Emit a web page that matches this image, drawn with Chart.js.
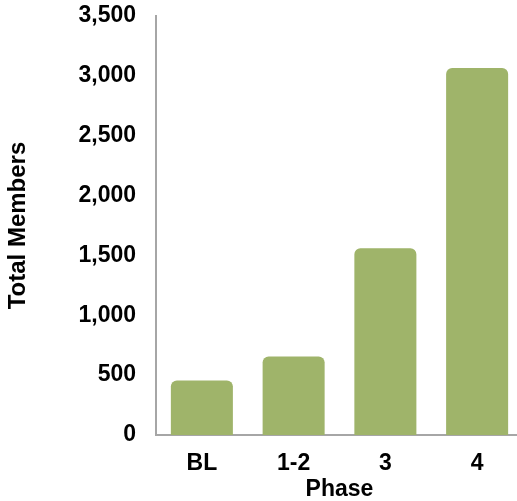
<!DOCTYPE html>
<html>
<head>
<meta charset="utf-8">
<script src="https://cdn.jsdelivr.net/npm/chart.js@4/dist/chart.umd.min.js"></script>
<style>
  html, body { margin: 0; padding: 0; background: #fff; overflow: hidden; }
  #wrap { width: 517px; height: 501px; overflow: hidden; }
</style>
</head>
<body>
<div id="wrap"><canvas id="chart" width="523" height="501"></canvas></div>
<script>
const phases = ['BL', '1-2', '3', '4'];
const members = [455, 655, 1560, 3065];
const yTicks = [0, 500, 1000, 1500, 2000, 2500, 3000, 3500];

const fontFamily = '"Liberation Sans", Arial, Helvetica, sans-serif';
const axisGrey = '#a6a6a6';

// the plot runs slightly past the right edge of the picture, so the canvas is a bit wider than the window
const chart = document.querySelector('#chart').getContext('2d');
new Chart(chart, {
    type: 'bar',
    data: {
        labels: phases,
        datasets: [
            {
                label: 'Total Members',
                data: members,
                backgroundColor: '#9fb46a',
                borderRadius: 6,
                borderSkipped: 'start',
                categoryPercentage: 0.676,
                barPercentage: 1
            }
        ]
    },
    options: {
        responsive: false,
        animation: false,
        layout: { padding: { top: 16, right: 0, left: 0, bottom: 0 } },
        plugins: {
            legend: { display: false },
            tooltip: { enabled: false }
        },
        scales: {
            x: {
                grid: { display: false, drawTicks: false },
                border: { display: true, color: axisGrey, width: 2 },
                ticks: {
                    padding: 15,
                    color: '#000',
                    font: { family: fontFamily, size: 23, weight: 'bold' }
                },
                title: {
                    display: true,
                    text: 'Phase',
                    color: '#000',
                    padding: 0,
                    font: { family: fontFamily, size: 23, weight: 'bold', lineHeight: 1 }
                },
                afterFit: (scale) => {
                    scale.height = 66;
                    scale.paddingLeft = 0;
                    scale.paddingRight = 0;
                }
            },
            y: {
                min: 0,
                max: 3500,
                grid: { display: false, drawTicks: false },
                border: { display: true, color: axisGrey, width: 2 },
                afterBuildTicks: (scale) => { scale.ticks = yTicks.map(v => ({ value: v })); },
                ticks: {
                    padding: 20,
                    color: '#000',
                    font: { family: fontFamily, size: 23, weight: 'bold' },
                    callback: (v) => v.toLocaleString('en-US')
                },
                title: {
                    display: true,
                    text: 'Total Members',
                    color: '#000',
                    padding: { top: 4, bottom: 0 },
                    font: { family: fontFamily, size: 24, weight: 'bold' }
                },
                afterFit: (scale) => {
                    scale.width = 156;
                    scale.paddingTop = 0;
                    scale.paddingBottom = 0;
                }
            }
        }
    }
});
</script>
</body>
</html>
